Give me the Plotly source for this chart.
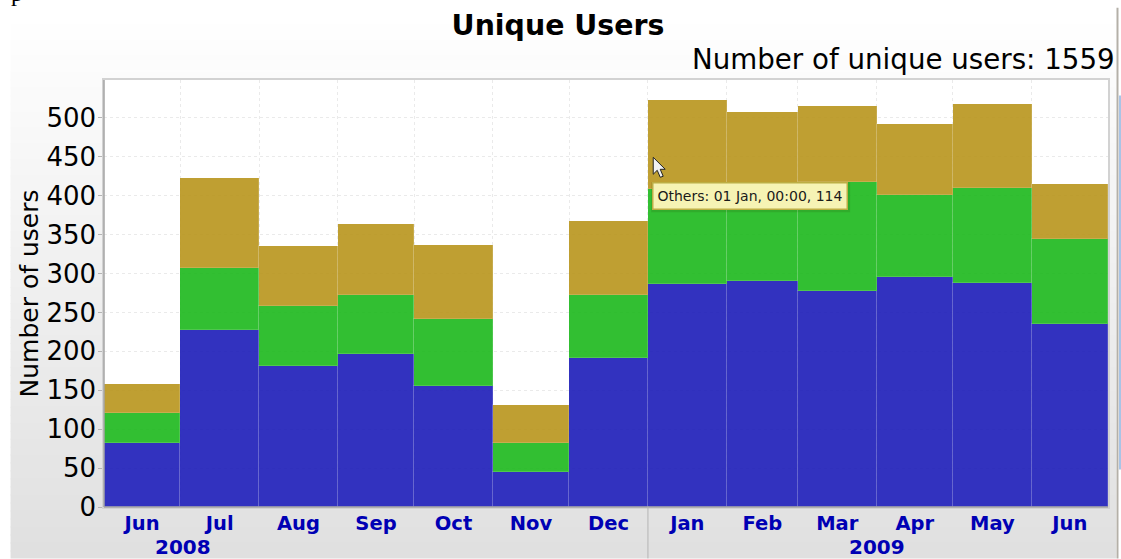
import pandas as pd
import plotly.graph_objects as go

months = ["2008-06-01", "2008-07-01", "2008-08-01", "2008-09-01", "2008-10-01", "2008-11-01", "2008-12-01",
          "2009-01-01", "2009-02-01", "2009-03-01", "2009-04-01", "2009-05-01", "2009-06-01"]
# Stack components
blue_users = [82, 228, 181, 196, 156, 45, 191, 286, 291, 277, 295, 288, 235]
green_users = [39, 79, 77, 77, 86, 37, 82, 123, 109, 141, 106, 122, 110]
others_users = [37, 116, 78, 91, 95, 49, 94, 114, 107, 97, 91, 108, 70]
year_labels = ["2008", "2009"]
year_positions = ["2008-07-02", "2009-04-01"]
title_text = "Unique Users"
subtitle_text = "Number of unique users: 1559"
y_title = "Number of users"
tooltip_text = "Others: 01 Jan, 00:00, 114"

W, H = 1121, 559
L, R, T, B = 103.5, 1108, 79.5, 507.5
FONT = "DejaVu Sans"
LABEL_BLUE = "#0000b4"


def px(x):
    return (x - L) / (R - L)


def py(y):
    return 1 - (y - T) / (B - T)


starts = pd.to_datetime(months)
ends = starts + pd.offsets.MonthBegin(1)
widths = [(e - s).total_seconds() * 1000 for s, e in zip(starts, ends)]

fig = go.Figure()
for name, vals, col in [
    ("Group 1", blue_users, "rgb(28,28,185)"),
    ("Group 2", green_users, "rgb(28,185,28)"),
    ("Others", others_users, "rgb(185,149,28)"),
]:
    fig.add_bar(
        x=months, y=vals, name=name, width=widths, offset=0, opacity=0.9,
        marker=dict(color=col, line=dict(color="rgba(255,255,255,0.14)", width=1)),
    )

shapes = []
# page background gradient
n = 69
top, bottom = 7, H
for i in range(n):
    t = i / (n - 1)
    v = round(255 - (255 - 224) * t)
    y0 = top + (bottom - top) * i / n
    y1 = top + (bottom - top) * (i + 1) / n + 1
    shapes.append(dict(type="rect", xref="paper", yref="paper", layer="below",
                       x0=px(10), x1=px(1116), y0=py(y0), y1=py(min(y1, H)),
                       fillcolor=f"rgb({v},{v},{v})", line_width=0))
# plot area background above the gradient
shapes.append(dict(type="rect", xref="paper", yref="paper", layer="below",
                   x0=0, x1=1, y0=0, y1=1, fillcolor="white", line_width=0))
# darker left and bottom frame edges
shapes.append(dict(type="line", xref="paper", yref="paper", x0=0, x1=0, y0=0, y1=1,
                   line=dict(color="#a4a4a4", width=1.5)))
shapes.append(dict(type="line", xref="paper", yref="paper", x0=0, x1=1, y0=0, y1=0,
                   line=dict(color="#a4a4a4", width=1.5)))
# window edge on the right
shapes.append(dict(type="line", xref="paper", yref="paper", x0=px(1117.5), x1=px(1117.5),
                   y0=py(7), y1=py(H), line=dict(color="#b4b0a8", width=2)))
shapes.append(dict(type="rect", xref="paper", yref="paper", x0=px(1119), x1=px(1121),
                   y0=py(95), y1=py(470), fillcolor="#a9c4e6", line_width=0))
# separator between years
shapes.append(dict(type="line", xref="x", yref="paper", x0="2009-01-01", x1="2009-01-01",
                   y0=py(507), y1=py(H), line=dict(color="#b4b4b4", width=1)))
# tooltip shadow
shapes.append(dict(type="rect", xref="paper", yref="paper", x0=px(651), x1=px(850),
                   y0=py(182), y1=py(212), fillcolor="rgba(40,40,0,0.12)", line_width=0))
# mouse pointer


def cursor_path(pts):
    return "M " + " L ".join(f"{px(x):.5f},{py(y):.5f}" for x, y in pts) + " Z"


shapes.append(dict(type="path", xref="paper", yref="paper",
                   path=cursor_path([(653, 157), (653, 174), (657, 170), (660, 177),
                                     (663, 176), (660, 169), (665, 169)]),
                   fillcolor="#f2f2f2", line=dict(color="#222222", width=1)))

annotations = [
    dict(text=subtitle_text, xref="paper", yref="paper", x=px(1117.5), y=py(58.5),
         xanchor="right", yanchor="middle", showarrow=False,
         font=dict(family=FONT, size=27.7, color="black")),
    dict(text=tooltip_text, xref="paper", yref="paper", x=px(750), y=py(195.5),
         xanchor="center", yanchor="middle", showarrow=False, width=191, height=23,
         bgcolor="#f6f3b4", bordercolor="#bcae45", borderwidth=1.5, borderpad=1,
         font=dict(family=FONT, size=14, color="#1a1a1a")),
    dict(text="p", xref="paper", yref="paper", x=px(8), y=py(-8), xanchor="left",
         yanchor="middle", showarrow=False,
         font=dict(family="Liberation Serif", size=24, color="black")),
]
for lab, pos in zip(year_labels, year_positions):
    annotations.append(dict(text=lab, xref="x", yref="paper", x=pos, y=py(547.5),
                            xanchor="center", yanchor="middle", showarrow=False,
                            font=dict(family=FONT, size=20, color=LABEL_BLUE, weight="bold")))

fig.update_layout(
    width=W, height=H, barmode="stack", bargap=0, showlegend=False,
    margin=dict(l=L, r=W - R, t=T, b=H - B, autoexpand=False),
    paper_bgcolor="white", plot_bgcolor="white",
    title=dict(text=title_text, x=558 / W, y=1 - 25 / H, xanchor="center", yanchor="middle",
               xref="container", yref="container",
               font=dict(family=FONT, size=28.4, color="black", weight="bold")),
    shapes=shapes, annotations=annotations,
    xaxis=dict(
        type="date", range=["2008-06-01", "2009-07-01"], dtick="M1", tick0="2008-06-01",
        tickformat="%b", ticklabelmode="period", ticks="", ticklabelstandoff=-2,
        tickfont=dict(family=FONT, size=19.5, color=LABEL_BLUE, weight="bold"),
        minor=dict(dtick="M1", tick0="2008-06-01", ticks="outside", ticklen=27, tickwidth=1,
                   tickcolor="#b4b4b4", showgrid=False),
        showgrid=True, gridcolor="#eaeaea", griddash="dot", gridwidth=1,
        showline=True, linecolor="#d2d2d2", linewidth=1.5, mirror=True, zeroline=False,
    ),
    yaxis=dict(
        range=[0, 548.7], dtick=50, tick0=0, ticks="outside", ticklen=4, tickcolor="#b4b4b4",
        ticklabelstandoff=-3,
        tickfont=dict(family=FONT, size=26, color="black"),
        title=dict(text=y_title, standoff=1, font=dict(family=FONT, size=25, color="black")),
        showgrid=True, gridcolor="#eaeaea", griddash="dot", gridwidth=1,
        showline=True, linecolor="#d2d2d2", linewidth=1.5, mirror=True, zeroline=False,
    ),
)

fig.write_html("out.html", config=dict(displayModeBar=False),
               post_script="document.body.style.margin='0';document.body.style.overflow='hidden';")
